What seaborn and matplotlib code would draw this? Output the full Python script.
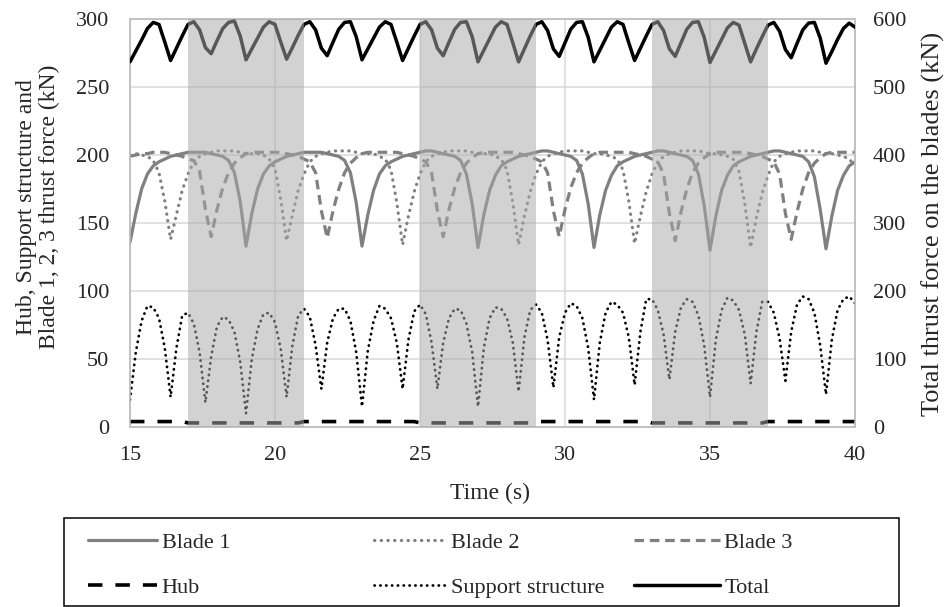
import numpy as np
import pandas as pd
import matplotlib
matplotlib.use("Agg")
import matplotlib.pyplot as plt
import seaborn as sns
from matplotlib.lines import Line2D
from matplotlib.patches import Rectangle

# ---------------- data ----------------
time_s = np.round(np.arange(15.0, 40.0001, 0.2), 1)

blade1 = [
    136, 157, 175, 186, 192, 195, 197, 199, 200, 201, 202, 202, 202, 202, 201, 200, 199, 196, 187, 166,
    133, 157, 175, 186, 192, 195, 197, 199, 200, 201, 202, 202, 202, 202, 201, 200, 199, 196, 187, 165,
    133, 156, 174, 186, 192, 195, 197, 199, 200, 201, 202, 203, 203, 202, 201, 200, 199, 196, 186, 164,
    132, 156, 174, 185, 192, 195, 197, 199, 200, 201, 202, 203, 203, 202, 201, 200, 199, 196, 186, 164,
    132, 156, 174, 185, 192, 195, 197, 199, 200, 201, 202, 203, 203, 202, 201, 200, 199, 196, 186, 163,
    130, 155, 174, 185, 192, 195, 197, 199, 200, 201, 202, 203, 203, 202, 201, 200, 199, 195, 184, 160,
    131, 155, 174, 185, 192, 195,
]

blade2 = [
    200, 201, 200, 199, 196, 187, 166, 138, 156, 174, 186, 195, 199, 201, 202, 203, 203, 203, 203, 202,
    201, 201, 201, 200, 197, 190, 167, 137, 156, 174, 186, 195, 199, 201, 202, 203, 203, 203, 203, 202,
    201, 201, 201, 199, 197, 189, 165, 134, 155, 173, 186, 195, 199, 201, 202, 203, 203, 203, 203, 202,
    201, 201, 201, 199, 197, 189, 165, 134, 155, 173, 186, 195, 199, 201, 202, 203, 203, 203, 203, 202,
    201, 201, 200, 199, 197, 189, 166, 135, 155, 173, 186, 195, 199, 201, 202, 203, 203, 203, 203, 202,
    201, 201, 200, 199, 197, 188, 164, 132, 154, 172, 185, 195, 199, 201, 202, 203, 203, 203, 203, 202,
    201, 201, 200, 199, 197, 192,
]

blade3 = [
    199, 200, 201, 201, 202, 202, 202, 201, 200, 199, 197, 196, 188, 160, 140, 160, 176, 187, 194, 198,
    201, 202, 202, 202, 202, 202, 202, 201, 200, 199, 197, 195, 187, 159, 139, 159, 175, 187, 194, 198,
    201, 202, 202, 202, 202, 202, 202, 201, 200, 199, 197, 195, 187, 159, 140, 160, 176, 187, 194, 198,
    201, 202, 202, 202, 202, 202, 202, 201, 200, 199, 197, 195, 187, 159, 140, 160, 176, 187, 194, 198,
    201, 202, 202, 202, 202, 202, 202, 201, 200, 199, 197, 195, 186, 157, 137, 158, 175, 187, 194, 198,
    201, 202, 202, 202, 202, 202, 202, 201, 200, 199, 197, 195, 186, 157, 138, 158, 175, 187, 194, 198,
    201, 202, 202, 202, 202, 202,
]

hub = [
    4, 4, 4, 4, 4, 4, 4, 4, 4, 4,
    3, 3, 3, 3, 3, 3, 3, 3, 3, 3, 3, 3, 3, 3, 3, 3, 3, 3, 3, 3,
    4, 4, 4, 4, 4, 4, 4, 4, 4, 4, 4, 4, 4, 4, 4, 4, 4, 4, 4, 4,
    3, 3, 3, 3, 3, 3, 3, 3, 3, 3, 3, 3, 3, 3, 3, 3, 3, 3, 3, 3,
    4, 4, 4, 4, 4, 4, 4, 4, 4, 4, 4, 4, 4, 4, 4, 4, 4, 4, 4, 4,
    3, 3, 3, 3, 3, 3, 3, 3, 3, 3, 3, 3, 3, 3, 3, 3, 3, 3, 3, 3,
    4, 4, 4, 4, 4, 4, 4, 4, 4, 4, 4, 4, 4, 4, 4, 4,
]

support = [
    20, 55, 78, 89, 88, 80, 58, 22, 58, 82, 84, 76, 55, 18, 52, 74, 81, 79, 70, 48,
    10, 50, 72, 83, 84, 77, 57, 22, 60, 82, 87, 81, 60, 28, 62, 80, 87, 87, 78, 55,
    15, 56, 78, 89, 87, 80, 62, 28, 64, 85, 90, 83, 62, 28, 62, 80, 87, 86, 76, 55,
    15, 58, 80, 88, 87, 80, 62, 26, 66, 86, 90, 84, 64, 29, 66, 84, 91, 89, 80, 58,
    20, 62, 84, 92, 90, 84, 66, 31, 70, 94, 94, 86, 68, 35, 70, 88, 94, 92, 82, 60,
    22, 64, 86, 95, 93, 86, 68, 32, 70, 92, 92, 84, 65, 34, 70, 90, 96, 94, 84, 60,
    24, 64, 86, 94, 96, 91,
]

total = [
    537, 553, 569, 586, 595, 592, 566, 539, 557, 575, 592, 596, 584, 558, 549, 568, 586, 595, 597, 575,
    540, 556, 572, 588, 596, 592, 566, 541, 558, 576, 592, 596, 584, 557, 546, 566, 585, 595, 596, 574,
    540, 556, 572, 588, 596, 592, 566, 539, 557, 575, 592, 596, 584, 557, 546, 566, 585, 595, 596, 574,
    537, 554, 571, 588, 596, 592, 565, 537, 556, 575, 592, 596, 583, 556, 545, 565, 585, 595, 596, 573,
    537, 554, 571, 588, 596, 592, 565, 539, 557, 575, 592, 596, 583, 556, 545, 565, 585, 595, 596, 573,
    536, 553, 570, 587, 595, 591, 564, 537, 556, 574, 591, 595, 582, 555, 543, 564, 584, 594, 595, 572,
    535, 552, 570, 586, 594, 588,
]

shaded_intervals = [(17, 21), (25, 29), (33, 37)]
x_ticks = [15, 20, 25, 30, 35, 40]
left_ticks = [0, 50, 100, 150, 200, 250, 300]
right_ticks = [0, 100, 200, 300, 400, 500, 600]

df = pd.DataFrame({
    "Time": time_s, "Blade 1": blade1, "Blade 2": blade2, "Blade 3": blade3,
    "Hub": hub, "Support structure": support, "Total": total,
})

# ---------------- styling ----------------
sns.set_style("white")
plt.rcParams['font.family'] = ['Liberation Serif', 'DejaVu Serif']

W, H = 949, 607
fig = plt.figure(figsize=(W / 100, H / 100), dpi=100)
ax = fig.add_axes([130 / W, 1 - 427 / H, 725 / W, 408 / H])
ax2 = ax.twinx()

GRAY = '#808080'
styles = {
    "Blade 1": dict(color=GRAY, linewidth=2.3, linestyle='-'),
    "Blade 2": dict(color=GRAY, linewidth=2.3, linestyle=(0, (0.1, 2.0)), dash_capstyle='round'),
    "Blade 3": dict(color=GRAY, linewidth=2.3, linestyle=(0, (3.0, 1.8))),
    "Hub": dict(color='black', linewidth=2.6, linestyle=(0, (4.0, 3.6))),
    "Support structure": dict(color='black', linewidth=2.0, linestyle=(0, (0.1, 2.0)), dash_capstyle='round'),
    "Total": dict(color='black', linewidth=2.5, linestyle='-'),
}

for name in ["Blade 1", "Blade 2", "Blade 3", "Hub", "Support structure"]:
    sns.lineplot(data=df, x="Time", y=name, ax=ax, legend=False, zorder=3, **styles[name])
sns.lineplot(data=df, x="Time", y="Total", ax=ax2, legend=False, zorder=3, **styles["Total"])

for a, b in shaded_intervals:
    ax2.axvspan(a, b, color='#aaaaaa', alpha=0.52, lw=0, zorder=10)

ax.set_xlim(15, 40)
ax.set_ylim(0, 300)
ax2.set_ylim(0, 600)
ax.set_xticks(x_ticks)
ax.set_yticks(left_ticks)
ax2.set_yticks(right_ticks)

ax.grid(True, color='#d9d9d9', linewidth=1.1)
ax.set_axisbelow(True)
ax2.grid(False)

ax.tick_params(axis='y', length=0, labelsize=16, pad=15)
ax.tick_params(axis='x', length=0, labelsize=16, pad=14)
ax2.tick_params(axis='y', length=0, labelsize=16, pad=13)
for a in (ax, ax2):
    for s in a.spines.values():
        s.set_color('#c0c0c0')
        s.set_linewidth(1.1)

ax.set_xlabel('')
ax.set_ylabel('')
ax2.set_ylabel('')

fig.text(490 / W, 1 - 493 / H, 'Time (s)', ha='center', va='center', fontsize=17)
fig.text(38 / W, 1 - 207 / H, 'Hub, Support structure and\nBlade 1, 2, 3 thrust force (kN)',
         rotation=90, ha='center', va='center', multialignment='center', fontsize=17,
         linespacing=1.1)
fig.text(933 / W, 1 - 224 / H, 'Total thrust force on the blades (kN)',
         rotation=90, ha='center', va='center', fontsize=19)

# ---------------- legend ----------------
def handle(name):
    return Line2D([0], [0], **styles[name])

columns = [(["Blade 1", "Hub"], 88, 3.1), (["Blade 2", "Support structure"], 374, 3.25),
           (["Blade 3", "Total"], 634, 3.85)]
for names, xpix, hl in columns:
    fig.legend([handle(n) for n in names], names, loc='upper left',
               bbox_to_anchor=(xpix / W, 1 - 532 / H), bbox_transform=fig.transFigure,
               frameon=False, fontsize=16, handlelength=hl, handletextpad=0.22,
               labelspacing=1.1, borderpad=0, borderaxespad=0)

fig.patches.append(Rectangle((64 / W, 1 / H), (899 - 64) / W, (606 - 518) / H,
                             transform=fig.transFigure, fill=False,
                             edgecolor='black', linewidth=1.1))

fig.savefig('out.png', dpi=100)
